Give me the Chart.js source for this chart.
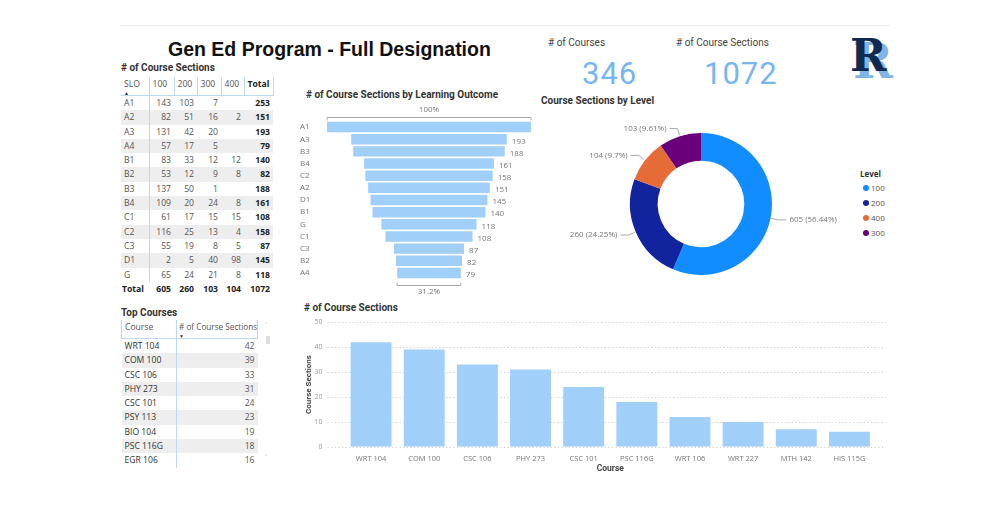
<!DOCTYPE html>
<html>
<head>
<meta charset="utf-8">
<script src="https://cdn.jsdelivr.net/npm/chart.js@4.4.0/dist/chart.umd.min.js"></script>
<style>
  body { margin:0; width:1000px; height:513px; background:#fff; position:relative; overflow:hidden; font-family:"Open Sans", "Noto Sans", sans-serif; }
  .abs { position:absolute; white-space:nowrap; }
  .vtitle { font-family:Roboto, sans-serif; font-weight:700; font-size:10px; color:#333; }
  table { border-collapse:collapse; font-size:8.6px; color:#555; table-layout:fixed; }
  td, th { padding:0 3px; height:14.3px; line-height:14.3px; overflow:hidden; white-space:nowrap; }
  th { font-weight:400; height:18px; vertical-align:top; line-height:14px; border-right:1px solid #bcd9f2; border-bottom:1px solid #bcd9f2; text-align:left; }
  .num { text-align:right; }
  .band { background:#eeeeee; }
  .slo { border-right:1px solid #bcd9f2; }
  .tot { font-weight:700; color:#222; }
  .arr { display:block; font-size:5px; line-height:4px; color:#333; }
</style>
</head>
<body>
<div class="abs" style="left:120px;top:25px;width:770px;height:1px;background:#eeeeee"></div>
<div class="abs" style="left:168px;top:38px;font-family:'Liberation Sans',Arial,sans-serif;font-weight:700;font-size:19.5px;color:#111">Gen Ed Program - Full Designation</div>

<div class="abs vtitle" style="left:121px;top:62px">&#35; of Course Sections</div>
<div class="abs" style="left:121px;top:77px" id="matrix"></div>

<div class="abs vtitle" style="left:121px;top:307px">Top Courses</div>
<div class="abs" style="left:121px;top:320px" id="topTable"></div>
<div class="abs" style="left:265px;top:321px;font-size:7px;color:#999">&#708;</div>
<div class="abs" style="left:266px;top:336px;width:4px;height:8px;background:#ddd"></div>
<div class="abs" style="left:265px;top:453px;font-size:7px;color:#999">&#709;</div>

<div class="abs vtitle" style="left:306px;top:89px">&#35; of Course Sections by Learning Outcome</div>
<canvas id="funnel" class="abs" style="left:300px;top:100px" width="240" height="200"></canvas>

<div class="abs" style="left:548px;top:37px;font-family:Roboto,sans-serif;font-size:10px;color:#444">&#35; of Courses</div>
<div class="abs" style="left:676px;top:37px;font-family:Roboto,sans-serif;font-size:10px;color:#444">&#35; of Course Sections</div>
<div class="abs" id="card1" style="left:582px;top:55px;font-family:Roboto,sans-serif;font-size:31px;color:#76b6f2;letter-spacing:1px"></div>
<div class="abs" id="card2" style="left:704px;top:55px;font-family:Roboto,sans-serif;font-size:31px;color:#76b6f2;letter-spacing:1px"></div>

<div class="abs" style="left:853px;top:36px;font-family:'DejaVu Serif',serif;font-weight:700;font-size:48px;line-height:50px;color:#7fb5e6">R</div>
<div class="abs" style="left:850px;top:33px;font-family:'DejaVu Serif',serif;font-weight:700;font-size:44px;line-height:46px;color:#0e2a4e">R</div>

<div class="abs vtitle" style="left:541px;top:95px">Course Sections by Level</div>
<canvas id="donut" class="abs" style="left:551px;top:109px" width="300" height="190"></canvas>
<div class="abs" id="legend" style="left:860px;top:167px;font-size:8px;color:#555"></div>

<div class="abs vtitle" style="left:304px;top:302px">&#35; of Course Sections</div>
<canvas id="bars" class="abs" style="left:298px;top:304px" width="600" height="170"></canvas>

<script>
// matrix data (sections per SLO and course level)
var sloLabels = ['A1','A2','A3','A4','B1','B2','B3','B4','C1','C2','C3','D1','G'];
var lvl100 = [143, 82, 131, 57, 83, 53, 137, 109, 61, 116, 55, 2, 65];
var lvl200 = [103, 51, 42, 17, 33, 12, 50, 20, 17, 25, 19, 5, 24];
var lvl300 = [7, 16, 20, 5, 12, 9, 1, 24, 15, 13, 8, 40, 21];
var lvl400 = [null, 2, null, null, 12, 8, null, 8, 15, 4, 5, 98, 8];
// bottom row of the matrix (distinct sections, not column sums)
var levelTotals = [605, 260, 103, 104, 1072];

// top courses table
var topCourses = ['WRT 104','COM 100','CSC 106','PHY 273','CSC 101','PSY 113','BIO 104','PSC 116G','EGR 106'];
var topSections = [42, 39, 33, 31, 24, 23, 19, 18, 16];

// funnel
var funnelLabels = ['A1','A3','B3','B4','C2','A2','D1','B1','G','C1','C3','B2','A4'];
var funnelValues = [253, 193, 188, 161, 158, 151, 145, 140, 118, 108, 87, 82, 79];

// cards
var numCourses = 346;
var numSections = 1072;

// donut
var levelLabels = ['100','200','400','300'];
var levelValues = [605, 260, 104, 103];
var levelColors = ['#118dff','#12239e','#e66c37','#6b007b'];

// bar chart
var barCourses = ['WRT 104','COM 100','CSC 106','PHY 273','CSC 101','PSC 116G','WRT 106','WRT 227','MTH 142','HIS 115G'];
var barValues = [42, 39, 33, 31, 24, 18, 12, 10, 7, 6];

var lightBlue = '#a0cffa';

function sum(a){ return a.reduce(function(s,v){ return s + (v || 0); }, 0); }

// ---- matrix table
var cols = [lvl100, lvl200, lvl300, lvl400];
var widths = [28, 25, 23, 24, 23, 29];
var h = '<table style="width:152px"><colgroup>';
widths.forEach(function(w){ h += '<col style="width:' + w + 'px">'; });
h += '</colgroup><tr>';
['SLO','100','200','300','400','Total'].forEach(function(t, i){
  var inner = t + (i == 0 ? '<span class="arr">&#9650;</span>' : '');
  h += '<th style="' + (i == 5 ? 'font-weight:700;color:#222' : '') + '">' + inner + '</th>';
});
h += '</tr>';
sloLabels.forEach(function(s, r){
  h += '<tr class="' + (r % 2 ? 'band' : '') + '"><td class="slo">' + s + '</td>';
  cols.forEach(function(c){ h += '<td class="num">' + (c[r] == null ? '' : c[r]) + '</td>'; });
  h += '<td class="num tot">' + (lvl100[r] + lvl200[r] + lvl300[r] + (lvl400[r] || 0)) + '</td></tr>';
});
h += '<tr><td class="tot" style="padding-left:1px">Total</td>';
levelTotals.forEach(function(v){ h += '<td class="num tot">' + v + '</td>'; });
h += '</tr></table>';
document.getElementById('matrix').innerHTML = h;

// ---- top courses table
var t = '<table style="font-size:8.6px;width:136px"><colgroup><col style="width:55px"><col style="width:81px"></colgroup>' +
        '<tr><th style="border-left:1px solid #bcd9f2">Course</th>' +
        '<th style="font-size:8.2px;padding:0 2px"># of Course Sections<span class="arr">&#9660;</span></th></tr>';
topCourses.forEach(function(c, i){
  t += '<tr class="' + (i % 2 ? 'band' : '') + '"><td class="slo" style="color:#333">' + c + '</td><td class="num">' + topSections[i] + '</td></tr>';
});
t += '</table>';
document.getElementById('topTable').innerHTML = t;

document.getElementById('card1').textContent = numCourses;
document.getElementById('card2').textContent = numSections;

// ---- legend
var lg = '<div style="font-weight:700;color:#333;height:13px;line-height:13px">Level</div>';
levelLabels.forEach(function(l, i){
  lg += '<div style="height:15px;line-height:15px"><span style="display:inline-block;width:6px;height:6px;border-radius:3px;background:' + levelColors[i] + ';margin:0 2px 0 3px"></span>' + l + '</div>';
});
document.getElementById('legend').innerHTML = lg;

// ---- funnel
var funnelLabelsPlugin = {
  id: 'funnelText',
  afterDatasetsDraw: function(chart){
    var ctx = chart.ctx;
    var meta = chart.getDatasetMeta(0);
    ctx.save();
    ctx.font = '8px "Open Sans"';
    ctx.fillStyle = '#777';
    ctx.textBaseline = 'middle';
    meta.data.forEach(function(bar, i){
      if (i == 0) return;
      ctx.textAlign = 'left';
      ctx.fillText(funnelValues[i], bar.x + 5, bar.y + 2);
    });
    var first = meta.data[0], last = meta.data[meta.data.length - 1];
    ctx.strokeStyle = '#aaa';
    ctx.lineWidth = 1;
    function bracket(x1, x2, y, up){
      ctx.beginPath();
      ctx.moveTo(x1, y + (up ? -3 : 3)); ctx.lineTo(x1, y); ctx.lineTo(x2, y); ctx.lineTo(x2, y + (up ? -3 : 3));
      ctx.stroke();
    }
    var x1 = chart.scales.x.getPixelForValue(-funnelValues[0] / 2), x2 = chart.scales.x.getPixelForValue(funnelValues[0] / 2);
    bracket(x1, x2, Math.round(first.y - 10) + 0.5, false);
    ctx.textAlign = 'center';
    ctx.fillText('100%', (x1 + x2) / 2, first.y - 17);
    var lv = funnelValues[funnelValues.length - 1];
    var l1 = chart.scales.x.getPixelForValue(-lv / 2), l2 = chart.scales.x.getPixelForValue(lv / 2);
    bracket(l1, l2, Math.round(last.y + 12) + 0.5, true);
    ctx.fillText((Math.round(lv / funnelValues[0] * 1000) / 10) + '%', (l1 + l2) / 2, last.y + 19);
    ctx.restore();
  }
};

new Chart(document.getElementById('funnel'), {
  type: 'bar',
  data: {
    labels: funnelLabels,
    datasets: [{ data: funnelValues.map(function(v){ return [-v / 2, v / 2]; }), backgroundColor: lightBlue, barPercentage: 0.86, categoryPercentage: 1 }]
  },
  options: {
    indexAxis: 'y', responsive: false, animation: false,
    layout: { padding: { top: 21, bottom: 21, right: 9 } },
    plugins: { legend: { display: false }, tooltip: { enabled: false } },
    scales: {
      x: { display: false, min: -funnelValues[0] / 2, max: funnelValues[0] / 2 },
      y: { grid: { display: false }, border: { display: false },
           ticks: { color: '#777', font: { size: 8, family: 'Open Sans' }, crossAlign: 'far', padding: 0, autoSkip: false },
           afterFit: function(s){ s.width = 27; } }
    }
  },
  plugins: [funnelLabelsPlugin]
});

// ---- donut
var total = sum(levelValues);
var donutLabels = {
  id: 'donutText',
  afterDatasetsDraw: function(chart){
    var ctx = chart.ctx;
    ctx.save();
    ctx.font = '8px "Open Sans"';
    ctx.fillStyle = '#777';
    ctx.strokeStyle = '#aaa';
    ctx.lineWidth = 1;
    ctx.textBaseline = 'middle';
    chart.getDatasetMeta(0).data.forEach(function(arc, i){
      var a = (arc.startAngle + arc.endAngle) / 2;
      var r = arc.outerRadius;
      var px = arc.x + Math.cos(a) * (r + 1), py = arc.y + Math.sin(a) * (r + 1);
      var ex = arc.x + Math.cos(a) * (r + 8), ey = arc.y + Math.sin(a) * (r + 8);
      var right = Math.cos(a) >= 0;
      var hx = ex + (right ? 8 : -8);
      ctx.beginPath(); ctx.moveTo(px, py); ctx.lineTo(ex, ey); ctx.lineTo(hx, ey); ctx.stroke();
      var pct = parseFloat((levelValues[i] / total * 100).toFixed(2));
      ctx.textAlign = right ? 'left' : 'right';
      ctx.fillText(levelValues[i] + ' (' + pct + '%)', hx + (right ? 3 : -3), ey);
    });
    ctx.restore();
  }
};

new Chart(document.getElementById('donut'), {
  type: 'doughnut',
  data: { labels: levelLabels, datasets: [{ data: levelValues, backgroundColor: levelColors, borderWidth: 0 }] },
  options: {
    responsive: false, animation: false, cutout: '61%',
    layout: { padding: 24 },
    plugins: { legend: { display: false }, tooltip: { enabled: false } }
  },
  plugins: [donutLabels]
});

// ---- bar chart
var dottedGrid = {
  id: 'dottedGrid',
  beforeDatasetsDraw: function(chart){
    var ctx = chart.ctx, y = chart.scales.y, area = chart.chartArea;
    ctx.save();
    ctx.strokeStyle = '#cfcfcf';
    ctx.lineWidth = 1.2;
    ctx.setLineDash([1.2, 2.4]);
    y.ticks.forEach(function(tk){
      var py = Math.round(y.getPixelForValue(tk.value)) + 0.5;
      ctx.beginPath(); ctx.moveTo(area.left - 17, py); ctx.lineTo(area.right + 10, py); ctx.stroke();
    });
    ctx.restore();
  }
};

new Chart(document.getElementById('bars'), {
  type: 'bar',
  data: { labels: barCourses, datasets: [{ data: barValues, backgroundColor: lightBlue, barPercentage: 0.77, categoryPercentage: 1 }] },
  options: {
    responsive: false, animation: false,
    layout: { padding: { top: 8, right: 22 } },
    plugins: { legend: { display: false }, tooltip: { enabled: false } },
    scales: {
      x: { grid: { display: false }, border: { display: false },
           ticks: { color: '#777', font: { size: 7.5, family: 'Open Sans' }, padding: 0, maxRotation: 0 },
           title: { display: true, text: 'Course', color: '#444', font: { size: 8.5, family: 'Roboto', weight: 'bold' }, padding: 0 } },
      y: { min: 0, max: 50, grid: { display: false }, border: { display: false },
           ticks: { stepSize: 10, color: '#999', font: { size: 7, family: 'Open Sans' }, padding: 14 },
           title: { display: true, text: 'Course Sections', color: '#444', font: { size: 8, family: 'Roboto', weight: 'bold' }, padding: { top: 6, bottom: 0 } },
           afterFit: function(s){ s.width = 46.5; } }
    }
  },
  plugins: [dottedGrid]
});
</script>
</body>
</html>
